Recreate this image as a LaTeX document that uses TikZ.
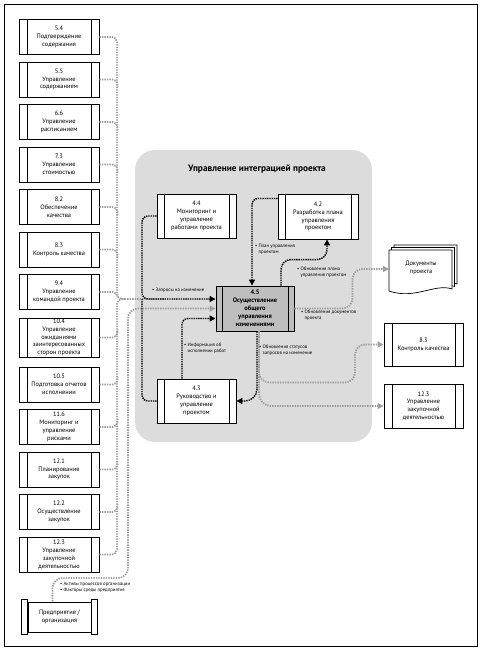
\documentclass[tikz,border=0pt]{standalone}
\usepackage{fontspec}
\setmainfont{PT Sans}
\usetikzlibrary{positioning,arrows.meta}
\definecolor{panelgray}{RGB}{220,220,220}
\definecolor{boxgray}{RGB}{190,190,190}
\definecolor{linegray}{RGB}{160,160,160}
\tikzset{
  proc/.style={draw, line width=0.9pt, fill=white, minimum width=80pt, minimum height=35pt,
    inner sep=1pt, align=center, font=\fontsize{6.4}{7.8}\selectfont,
    path picture={
      \draw[line width=0.9pt] ([xshift=#1]path picture bounding box.north west) -- ([xshift=#1]path picture bounding box.south west);
      \draw[line width=0.9pt] ([xshift=-#1]path picture bounding box.north east) -- ([xshift=-#1]path picture bounding box.south east);}},
  proc/.default=8pt,
  blk/.style={line width=1.4pt, dash pattern=on 1.4pt off 0.9pt, rounded corners=6pt},
  gry/.style={linegray, line width=1.8pt, dash pattern=on 1.4pt off 1.1pt, rounded corners=5pt},
  lbl/.style={font=\fontsize{4.8}{6}\selectfont, align=left, inner sep=0pt, anchor=north west},
}
\begin{document}
\begin{tikzpicture}[x=1pt, y=-1pt, >={Triangle[length=6pt,width=6pt]}, node distance=42.5pt]
  \useasboundingbox (0,0) rectangle (484,652);
  \draw[line width=0.8pt] (4,4) rectangle (477,646);
  % integration group
  \fill[panelgray, rounded corners=20pt] (135,150) rectangle (372,442);
  \node[font=\bfseries\fontsize{9.3}{11}\selectfont] (title) at (257,169) {Управление интеграцией проекта};

  % left column
  \node[proc] (p54) at (59,37) {5.4\\Подтверждение\\содержания};
  \node[proc, below of=p54] (p55) {5.5\\Управление\\содержанием};
  \node[proc, below of=p55] (p66) {6.6\\Управление\\расписанием};
  \node[proc, below of=p66] (p73) {7.3\\Управление\\стоимостью};
  \node[proc, below of=p73] (p82) {8.2\\Обеспечение\\качества};
  \node[proc, below of=p82] (p83) {8.3\\Контроль качества};
  \node[proc, below of=p83] (p94) {9.4\\Управление\\командой проекта};
  \node[proc, below of=p94, yshift=-3pt] (p104) {10.4\\Управление\\ожиданиями\\заинтересованных\\сторон проекта};
  \node[proc, below of=p104, yshift=-4.5pt] (p105) {10.5\\Подготовка отчетов\\исполнении};
  \node[proc, below of=p105] (p116) {11.6\\Мониторинг и\\управление\\рисками};
  \node[proc, below of=p116] (p121) {12.1\\Планирование\\закупок};
  \node[proc, below of=p121] (p122) {12.2\\Осуществление\\закупок};
  \node[proc, below of=p122] (p123) {12.3\\Управление\\закупочной\\деятельностью};

  % enterprise
  \node[draw, line width=0.9pt, fill=white, minimum width=63pt, minimum height=30pt, align=center,
    font=\fontsize{6.4}{7.8}\selectfont] (org) at (59.5,617) {Предприятие /\\организация};
  \draw[line width=0.9pt] ([yshift=2pt]org.north west) rectangle ([xshift=-6pt,yshift=-2pt]org.south west);
  \draw[line width=0.9pt] ([yshift=2pt]org.north east) rectangle ([xshift=6pt,yshift=-2pt]org.south east);

  % processes of the group
  \node[proc=7pt, minimum width=79pt, minimum height=44pt] (m44) at (196.5,216) {4.4\\Мониторинг и\\управление\\работами проекта};
  \node[proc=7pt, minimum width=80pt, minimum height=45pt] (m42) at (318,216.5) {4.2\\Разработка плана\\управления\\проектом};
  \node[proc=6pt, fill=boxgray, minimum width=78pt, minimum height=45pt,
    font=\bfseries\fontsize{6.5}{8}\selectfont] (m45) at (255,308.5) {4.5\\Осуществление\\общего\\управления\\изменениями};
  \node[proc=7pt, minimum width=79pt, minimum height=44pt] (m43) at (196.5,401) {4.3\\Руководство и\\управление\\проектом};

  % outputs
  \foreach \d in {5,2.5,0}
    \draw[line width=0.7pt, fill=white] ({389+\d},{250-\d}) -- ({452+\d},{250-\d}) -- ({452+\d},{289-\d})
      .. controls ({435+\d},{283-\d}) and ({415+\d},{300-\d}) .. ({389+\d},{291-\d}) -- cycle;
  \node[font=\fontsize{6.4}{7.8}\selectfont, align=center] (docs) at (421,267.5) {Документы\\проекта};
  \coordinate (docsin) at (389,269);
  \node[proc, minimum width=79pt, minimum height=43pt] (r83) at (423.5,344.5) {8.3\\Контроль качества};
  \node[proc, minimum width=79pt, minimum height=44pt] (r123) at (423.5,406) {12.3\\Управление\\закупочной\\деятельностью};

  % grey inputs: one trunk, short stubs into it
  \draw[gry] (p54.east) -| (117,299) -- (165,299);
  \draw[gry] (p123.east) -| (117,299) -- (125,299);
  \foreach \n in {p55,p66,p73,p82,p83}
    \draw[gry] (\n.east) -| ++(18pt,-8pt);
  \draw[gry] (p94.east) -| ++(18pt,-5pt);
  \foreach \n in {p104,p105,p116,p121,p122}
    \draw[gry] (\n.east) -| ++(18pt,8pt);
  \draw[gry, ->, rounded corners=10pt] ([xshift=-7pt]org.north) |- (128,578) |- (m45.west);

  % black flows
  \draw[blk, ->] (m44.west) -| (142,299) -- ([yshift=9.5pt]m45.west);
  \draw[blk] (m43.west) -| (142,299);
  \draw[blk, ->] ([xshift=-14.5pt]m43.north) |- ([yshift=-10pt]m45.west);
  \draw[blk, ->] ([yshift=18pt]m42.west) -| ([xshift=-3pt]m45.north);
  \draw[blk, ->, rounded corners=10pt] ([xshift=26pt]m45.north) -- ++(0,26pt) -| ([xshift=9pt]m42.south);
  \draw[blk, ->, rounded corners=12pt] ([xshift=2pt]m45.south) |- (m43.east);

  % grey outputs
  \draw[gry, ->, rounded corners=10pt] (m45.east) -- ++(58pt,0) |- (docsin);
  \draw[gry, ->, rounded corners=10pt] ([xshift=4pt]m45.south) |- ++(96pt,-51pt) |- (r83.west);
  \draw[gry, ->, rounded corners=12pt] ([xshift=4pt]m45.south) |- (r123.west);

  % labels
  \node[lbl] (lplan) at (255,244) {• План управления\\\phantom{• }проектом};
  \node[lbl] (lupd) at (297,267) {• Обновления плана\\\phantom{• }управления проектом};
  \node[lbl] (lreq) at (152,288) {• Запросы на изменение};
  \node[lbl] (ldoc) at (301,310) {• Обновления документов\\\phantom{• }проекта};
  \node[lbl] (linfo) at (184,343) {• Информация об\\\phantom{• }исполнении работ};
  \node[lbl] (lstat) at (259,345) {• Обновления статусов\\\phantom{• }запросов на изменение};
  \node[lbl] (lorg) at (60,582) {• Активы процессов организации\\• Факторы среды предприятия};
\end{tikzpicture}
\end{document}
